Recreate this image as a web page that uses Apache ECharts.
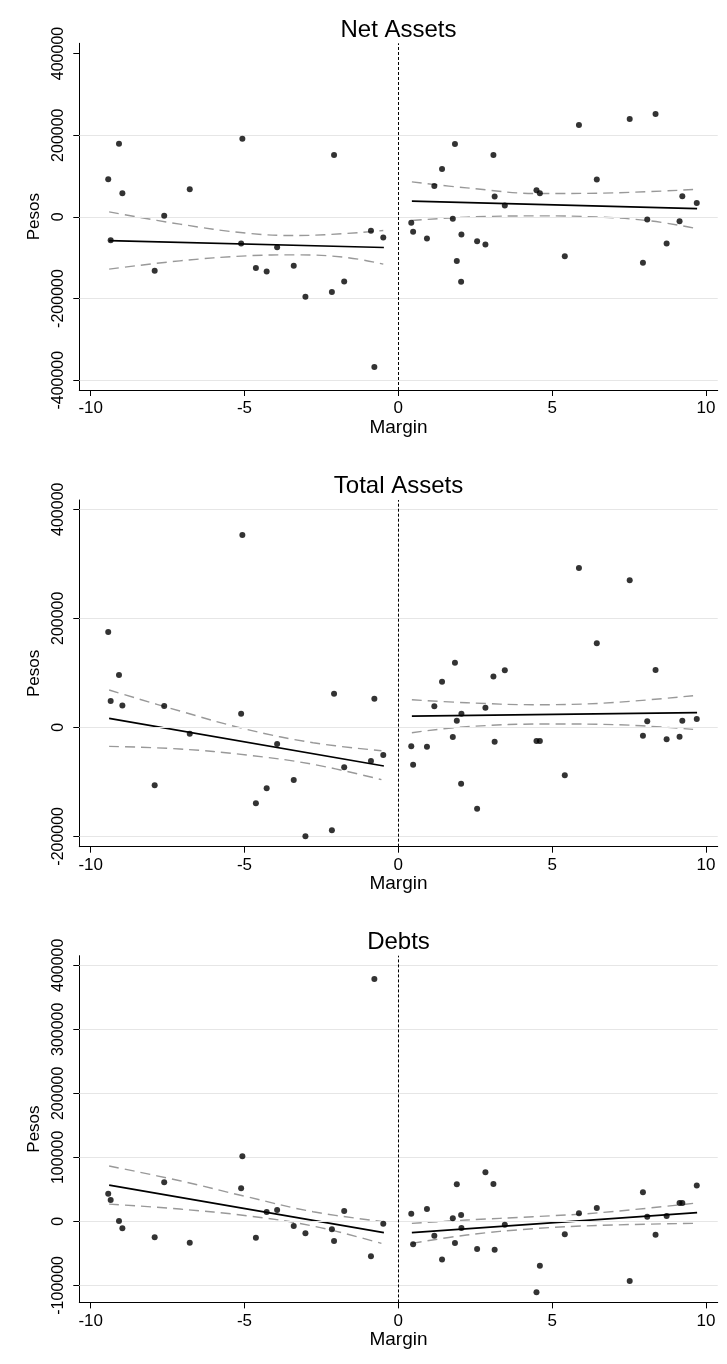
<!DOCTYPE html>
<html>
<head>
<meta charset="utf-8">
<script src="https://cdn.jsdelivr.net/npm/echarts@6/dist/echarts.min.js"></script>
<style>
  html, body { margin: 0; padding: 0; background: #fff; }
  #chart { width: 727px; height: 1364px; }
</style>
</head>
<body>
<div id="chart"></div>
<script>
// ---------- DATA ----------
const panelTitles = ['Net Assets', 'Total Assets', 'Debts'];
const xTicks = [-10, -5, 0, 5, 10];
const netTicks = [-400000, -200000, 0, 200000, 400000];
const totalTicks = [-200000, 0, 200000, 400000];
const debtTicks = [-100000, 0, 100000, 200000, 300000, 400000];
const netGridlines = [-400000, -200000, 0, 200000];

const marginLeft = [-9.43, -9.35, -9.08, -8.97, -7.92, -7.61, -6.78, -5.11, -5.07, -4.63,
                    -4.28, -3.94, -3.40, -3.02, -2.16, -2.09, -1.76, -0.89, -0.78, -0.49];
const marginRight = [0.42, 0.48, 0.93, 1.17, 1.42, 1.77, 1.84, 1.90, 2.04, 2.05,
                     2.56, 2.83, 3.09, 3.13, 3.46, 4.49, 4.60, 5.41, 5.87, 6.45,
                     7.52, 7.95, 8.09, 8.36, 8.72, 9.14, 9.23, 9.70];

const netLeft = [92100, -57000, 179300, 57900, -132000, 2400, 67600, -65200, 191500, -125500,
                 -133700, -74200, -119800, -195600, -184200, 151600, -158100, -34200, -367600, -50500];
const netRight = [-14700, -36700, -53000, 75800, 117400, -4900, 178500, -108400, -158900, -43200,
                  -59500, -67600, 151600, 49700, 27700, 65200, 57900, -96200, 224900, 91300,
                  239600, -112500, -6500, 251800, -65200, -10600, 50500, 34200];

const totalLeft = [174900, 48300, 96000, 39800, -106400, 39100, -11600, 25100, 352900, -139400,
                   -111900, -30600, -96600, -200000, -189000, 61800, -73400, -61800, 52600, -50800];
const totalRight = [-34900, -68500, -35500, 38500, 83800, -17700, 118600, 12200, -103400, 25100,
                    -149200, 36100, 93000, -26300, 104600, -25100, -25100, -88100, 292300, 154100,
                    269700, -15300, 11000, 105200, -22000, -17100, 12200, 15300];

const debtLeft = [43200, 33300, 500, -10900, -25000, 60900, -33300, 51600, 101600, -25500,
                  14600, 17700, -7300, -18700, -12500, -30700, 16100, -54700, 378600, -3600];
const debtRight = [12000, -35900, 19300, -22400, -59400, 4700, -33900, 57800, 9900, -10400,
                   -43200, 76600, 58300, -44300, -5200, -110900, -69300, -20300, 12500, 20800,
                   -93200, 45300, 7300, -20800, 8300, 28600, 28600, 56200];

// linear fit end points
const fitLeftX = [-9.40, -0.47];
const fitRightX = [0.44, 9.71];
const netFitLeft = [-58000, -75100];
const netFitRight = [38400, 20300];
const totalFitLeft = [16500, -71000];
const totalFitRight = [20700, 26800];
const debtFitLeft = [56700, -17700];
const debtFitRight = [-17700, 13500];

// confidence bands
const netCiUpperLeft = [[-9.40, 12200], [-7.10, -17900], [-4.93, -40000], [-3.31, -45700], [-0.49, -33500]];
const netCiLowerLeft = [[-9.40, -128100], [-7.10, -107700], [-4.93, -95500], [-3.31, -93000], [-1.68, -99600], [-0.49, -115900]];
const netCiUpperRight = [[0.44, 85700], [2.22, 71000], [4.60, 57100], [6.55, 58000], [9.58, 66900]];
const netCiLowerRight = [[0.44, -9000], [2.22, -700], [4.60, 2400], [6.55, -700], [8.17, -9800], [9.58, -26900]];

const totalCiUpperLeft = [[-9.40, 68400], [-7.10, 29900], [-4.93, -3700], [-2.77, -28200], [-0.55, -42900]];
const totalCiLowerLeft = [[-9.40, -34900], [-7.10, -39800], [-4.93, -50800], [-2.77, -67900], [-0.55, -96000]];
const totalCiUpperRight = [[0.44, 50600], [2.22, 45100], [4.38, 41500], [6.55, 44000], [9.58, 58000]];
const totalCiLowerRight = [[0.44, -9900], [2.22, 1100], [4.92, 6100], [7.09, 4800], [9.58, -3700]];

const debtCiUpperLeft = [[-9.40, 86400], [-7.10, 63400], [-4.93, 38500], [-2.77, 15000], [-0.55, 0]];
const debtCiLowerLeft = [[-9.40, 27000], [-7.10, 19200], [-4.93, 8800], [-2.77, -7300], [-0.55, -34400]];
const debtCiUpperRight = [[0.44, -3100], [2.22, 2100], [4.38, 7300], [6.55, 13500], [9.58, 28100]];
const debtCiLowerRight = [[0.44, -34400], [2.22, -21400], [4.38, -11500], [6.55, -6300], [9.58, -3100]];

// ---------- BUILD ----------
const zip = (xs, ys) => xs.map((x, i) => [x, ys[i]]);
const FONT = "'Liberation Sans', Arial, Helvetica, sans-serif";

const panels = [
  { title: panelTitles[0], left: zip(marginLeft, netLeft), right: zip(marginRight, netRight),
    fitL: zip(fitLeftX, netFitLeft), fitR: zip(fitRightX, netFitRight),
    ci: [netCiUpperLeft, netCiLowerLeft, netCiUpperRight, netCiLowerRight],
    ticks: netTicks, grid: netGridlines, min: -424000, max: 425000, top: 43.3, titleTop: 18 },
  { title: panelTitles[1], left: zip(marginLeft, totalLeft), right: zip(marginRight, totalRight),
    fitL: zip(fitLeftX, totalFitLeft), fitR: zip(fitRightX, totalFitRight),
    ci: [totalCiUpperLeft, totalCiLowerLeft, totalCiUpperRight, totalCiLowerRight],
    ticks: totalTicks, grid: totalTicks, min: -219000, max: 417000, top: 500, titleTop: 474 },
  { title: panelTitles[2], left: zip(marginLeft, debtLeft), right: zip(marginRight, debtRight),
    fitL: zip(fitLeftX, debtFitLeft), fitR: zip(fitRightX, debtFitRight),
    ci: [debtCiUpperLeft, debtCiLowerLeft, debtCiUpperRight, debtCiLowerRight],
    ticks: debtTicks, grid: debtTicks, min: -126600, max: 415000, top: 955.7, titleTop: 930 }
];

const PLOT_LEFT = 79.3, PLOT_RIGHT = 717.7, PLOT_H = 346.7;

const option = {
  animation: false,
  backgroundColor: '#fff',
  title: [], grid: [], xAxis: [], yAxis: [], series: []
};

panels.forEach((p, i) => {
  option.title.push({
    text: p.title, left: (PLOT_LEFT + PLOT_RIGHT) / 2, top: p.titleTop, textAlign: 'center', padding: 0,
    textStyle: { fontFamily: FONT, fontSize: 24, fontWeight: 'normal', color: '#000' }
  });
  option.grid.push({ left: PLOT_LEFT, width: PLOT_RIGHT - PLOT_LEFT, top: p.top, height: PLOT_H, containLabel: false });
  option.xAxis.push({
    type: 'value', gridIndex: i, min: -10.37, max: 10.38,
    name: 'Margin', nameLocation: 'middle', nameGap: 25,
    nameTextStyle: { fontFamily: FONT, fontSize: 19, color: '#000' },
    axisLine: { show: true, onZero: false, lineStyle: { color: '#000', width: 1 } },
    axisTick: { show: true, length: 6, customValues: xTicks, lineStyle: { color: '#000', width: 1 } },
    axisLabel: { customValues: xTicks, fontFamily: FONT, fontSize: 17, color: '#000', margin: 10 },
    splitLine: { show: false }
  });
  option.yAxis.push({
    type: 'value', gridIndex: i, min: p.min, max: p.max,
    name: 'Pesos', nameLocation: 'middle', nameGap: 31,
    nameTextStyle: { fontFamily: FONT, fontSize: 17, color: '#000' },
    axisLine: { show: true, onZero: false, lineStyle: { color: '#000', width: 1 } },
    axisTick: { show: true, length: 6, customValues: p.ticks, lineStyle: { color: '#000', width: 1 } },
    axisLabel: { customValues: p.ticks, rotate: 90, fontFamily: FONT, fontSize: 16, color: '#000', margin: 13,
                 formatter: v => String(Math.round(v)) },
    splitLine: { show: false }
  });
  // gridlines
  option.series.push({
    type: 'line', xAxisIndex: i, yAxisIndex: i, data: [], silent: true, z: 1,
    markLine: { silent: true, symbol: 'none', label: { show: false }, animation: false,
      lineStyle: { color: '#e6e6e6', width: 1.2, type: 'solid' },
      data: p.grid.map(t => ({ yAxis: t })) }
  });
  // vertical cutoff line
  option.series.push({
    type: 'line', xAxisIndex: i, yAxisIndex: i, data: [], silent: true, z: 2,
    markLine: { silent: true, symbol: 'none', label: { show: false }, animation: false,
      lineStyle: { color: '#000', width: 1, type: [3, 2] },
      data: [{ xAxis: 0 }] }
  });
  // CI bands
  p.ci.forEach(c => option.series.push({
    type: 'line', xAxisIndex: i, yAxisIndex: i, data: c, smooth: 0.4, showSymbol: false, silent: true, z: 3,
    lineStyle: { color: '#999999', width: 1.4, type: [10, 6] }
  }));
  // fit lines
  [p.fitL, p.fitR].forEach(f => option.series.push({
    type: 'line', xAxisIndex: i, yAxisIndex: i, data: f, showSymbol: false, silent: true, z: 4,
    lineStyle: { color: '#000', width: 1.7 }
  }));
  // points
  option.series.push({
    type: 'scatter', xAxisIndex: i, yAxisIndex: i, data: p.left.concat(p.right),
    symbolSize: 6, itemStyle: { color: '#000' }, z: 5
  });
});

const chart = echarts.init(document.getElementById('chart'), null, { renderer: 'canvas' });
chart.setOption(option);
</script>
</body>
</html>
